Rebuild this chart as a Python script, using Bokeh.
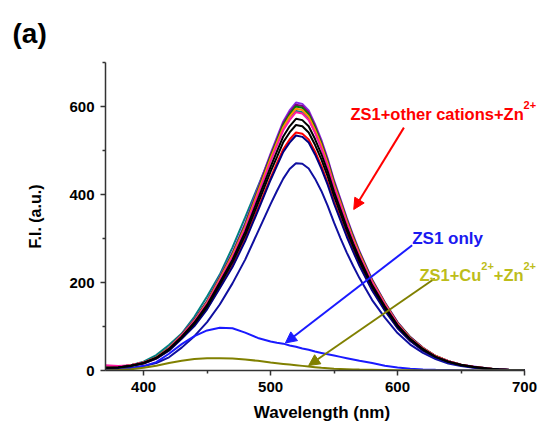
from bokeh.plotting import figure
from bokeh.models import Range1d, FixedTicker, Label, Arrow, NormalHead
from bokeh.embed import file_html
from bokeh.resources import INLINE

# ---- data ----
wavelength = [370, 380, 390, 400, 410, 420, 430, 440, 450, 460, 470, 480, 490, 500,
              505, 510, 515, 520, 525, 530, 535, 540, 545, 550, 555, 560, 565,
              570, 580, 590, 600, 610, 620, 630, 640, 650, 660, 670, 680, 690, 700]

teal = [6, 8, 12, 20, 35, 58, 84, 122, 168, 218, 280, 348, 418, 488,
        522, 553, 576, 590, 587, 572, 543, 507, 466, 419, 378, 336, 298,
        263, 200, 150, 106, 74, 50, 32, 21, 13, 8, 5, 2, 1, 1]
violet = [6, 8, 12, 18, 30, 52, 82, 116, 158, 213, 268, 335, 414, 493,
          530, 566, 591, 609, 606, 591, 560, 524, 481, 432, 390, 347, 308,
          271, 207, 155, 110, 76, 52, 33, 21, 13, 9, 5, 2, 1, 1]
purple = [6, 8, 12, 18, 30, 51, 82, 115, 157, 211, 266, 332, 411, 489,
          525, 562, 586, 604, 601, 586, 556, 519, 477, 429, 387, 344, 305,
          269, 205, 154, 109, 76, 51, 33, 21, 13, 8, 5, 2, 1, 1]
green = [6, 8, 12, 18, 30, 51, 81, 114, 156, 210, 264, 330, 408, 486,
         522, 558, 582, 600, 597, 582, 552, 516, 474, 426, 384, 342, 303,
         267, 204, 153, 108, 75, 51, 33, 21, 13, 8, 5, 2, 1, 1]
orange = [6, 8, 12, 18, 30, 51, 80, 113, 155, 208, 262, 327, 405, 482,
          518, 553, 577, 595, 592, 577, 547, 512, 470, 422, 381, 339, 300,
          265, 202, 152, 107, 74, 51, 33, 21, 13, 8, 5, 2, 1, 1]
pink = [12, 10, 12, 18, 29, 50, 79, 112, 153, 205, 258, 323, 399, 475,
        511, 546, 569, 587, 584, 569, 540, 505, 464, 417, 376, 335, 296,
        261, 200, 150, 106, 73, 50, 32, 21, 13, 8, 5, 2, 1, 1]
red = [5, 7, 11, 16, 27, 46, 73, 103, 141, 189, 238, 298, 368, 438,
       471, 503, 525, 541, 538, 525, 498, 465, 427, 384, 346, 308, 273,
       241, 184, 138, 97, 68, 46, 30, 19, 12, 8, 4, 2, 1, 1]
navy1 = [5, 7, 11, 16, 27, 45, 72, 101, 139, 187, 235, 294, 363, 433,
         465, 497, 518, 534, 531, 518, 491, 459, 422, 379, 342, 304, 270,
         238, 182, 136, 96, 67, 45, 29, 19, 12, 7, 4, 2, 1, 1]
navy2 = [3, 4, 6, 10, 17, 30, 52, 78, 110, 150, 198, 252, 315, 378,
         408, 436, 458, 471, 470, 459, 436, 408, 374, 336, 301, 268, 238,
         210, 160, 120, 85, 59, 40, 26, 16, 10, 6, 4, 2, 1, 0]
black1 = [6, 7, 11, 17, 29, 49, 77, 109, 149, 200, 252, 315, 389, 463,
          498, 532, 555, 572, 569, 555, 526, 492, 452, 406, 366, 326, 289,
          255, 194, 146, 103, 72, 49, 31, 20, 13, 8, 5, 2, 1, 1]
black2 = [6, 7, 11, 17, 28, 47, 75, 106, 145, 195, 246, 307, 379, 452,
          485, 519, 541, 558, 555, 541, 513, 480, 441, 396, 357, 318, 282,
          248, 190, 142, 100, 70, 47, 31, 20, 12, 8, 4, 2, 1, 1]
zs1_only = [0, 1, 4, 10, 19, 38, 60, 78, 91, 97, 96, 86, 74, 66,
            63, 61, 57, 54, 50, 47, 43, 40, 37, 34, 31, 28, 25,
            22, 17, 11, 7, 4, 2.5, 1.5, 1, 0.5, 0.3, 0.2, 0.1, 0, 0]
zs1_cu_zn = [0, 1, 3, 6, 11, 17, 22, 26, 28, 28, 27, 25, 22, 18,
             16.5, 15, 13.5, 12, 10.5, 9, 7.5, 6, 5, 4, 3.5, 3, 2.5,
             2, 1.5, 1, 0.5, 0.3, 0.2, 0.1, 0, 0, 0, 0, 0, 0, 0]

x_ticks = [400, 500, 600, 700]
x_minor = [450, 550, 650]
y_ticks = [0, 200, 400, 600]
y_minor = [100, 300, 500, 700]

FONT = "Liberation Sans"

# frame runs to the right window edge so the annotation texts can reach it;
# the x axis line itself stops at 700 via bounds
p = figure(width=538, height=424, output_backend="svg", toolbar_location=None,
           x_range=Range1d(370, 711), y_range=Range1d(0, 700),
           min_border_left=105, min_border_right=0, min_border_top=62,
           min_border_bottom=54)
p.outline_line_color = None
p.xgrid.visible = False
p.ygrid.visible = False
p.background_fill_color = "white"
p.border_fill_color = "white"

p.title.text = "(a)"
p.title.align = "left"
p.title.offset = -93
p.title.text_font = FONT
p.title.text_font_style = "bold"
p.title.text_font_size = "28px"
p.title.text_color = "black"
p.title.standoff = 27

p.xaxis.ticker = FixedTicker(ticks=x_ticks, minor_ticks=x_minor)
p.yaxis.ticker = FixedTicker(ticks=y_ticks, minor_ticks=y_minor)
p.xaxis.bounds = (370, 700)
for ax in (p.xaxis, p.yaxis):
    ax.axis_line_color = "#333333"
    ax.axis_line_width = 1.5
    ax.major_tick_line_color = "#333333"
    ax.minor_tick_line_color = "#333333"
    ax.major_tick_line_width = 1.5
    ax.minor_tick_line_width = 1.5
    ax.major_tick_in = 0
    ax.major_tick_out = 5
    ax.minor_tick_in = 0
    ax.minor_tick_out = 3
    ax.major_label_text_font = FONT
    ax.major_label_text_font_style = "bold"
    ax.major_label_text_font_size = "15px"
    ax.major_label_text_color = "black"
    ax.axis_label_text_font = FONT
    ax.axis_label_text_font_style = "bold"
    ax.axis_label_text_color = "black"
    ax.major_label_standoff = 6
p.xaxis.axis_label = "Wavelength (nm)"
p.xaxis.axis_label_text_font_size = "17px"
p.xaxis.axis_label_standoff = 8
p.yaxis.axis_label = "F.I. (a.u.)"
p.yaxis.axis_label_text_font_size = "16px"
p.yaxis.axis_label_standoff = 22

series = [
    (teal, "#008080"), (violet, "#8a2be2"), (purple, "#800080"),
    (green, "#008000"), (orange, "#ff8c00"), (pink, "#ff1aa3"),
    (red, "#ff0000"), (navy1, "#000080"), (navy2, "#1010a0"),
    (black1, "#000000"), (black2, "#000000"),
    (zs1_only, "#1a1aff"), (zs1_cu_zn, "#808000"),
]
for vals, col in series:
    p.line(wavelength, vals, line_color=col, line_width=2)

# arrows
p.add_layout(Arrow(x_start=605, y_start=552, x_end=565.5, y_end=366,
                   line_color="#ff0000", line_width=2,
                   end=NormalHead(size=11, fill_color="#ff0000", line_color="#ff0000")))
p.add_layout(Arrow(x_start=611.5, y_start=284.5, x_end=511.7, y_end=62.6,
                   line_color="#1a1aff", line_width=2,
                   end=NormalHead(size=11, fill_color="#1a1aff", line_color="#1a1aff")))
p.add_layout(Arrow(x_start=629.3, y_start=209, x_end=530, y_end=11.3,
                   line_color="#808000", line_width=2,
                   end=NormalHead(size=11, fill_color="#808000", line_color="#808000")))

def lab(x, y, t, col, size):
    p.add_layout(Label(x=x, y=y, text=t, text_color=col, text_font=FONT,
                       text_font_style="bold", text_font_size=size,
                       text_baseline="alphabetic", text_align="left"))

lab(562.9, 583.4, "ZS1+other cations+Zn", "#ff0000", "16.5px")
lab(699.2, 604, "2+", "#ff0000", "11px")
lab(611.5, 299.5, "ZS1 only", "#1a1af0", "17px")
lab(617.2, 217.3, "ZS1+Cu", "#bdbd1a", "16.5px")
lab(666.0, 238, "2+", "#bdbd1a", "11px")
lab(675.8, 217.3, "+Zn", "#bdbd1a", "16.5px")
lab(699.1, 238, "2+", "#bdbd1a", "11px")

open("out.html", "w").write(file_html(p, INLINE))
